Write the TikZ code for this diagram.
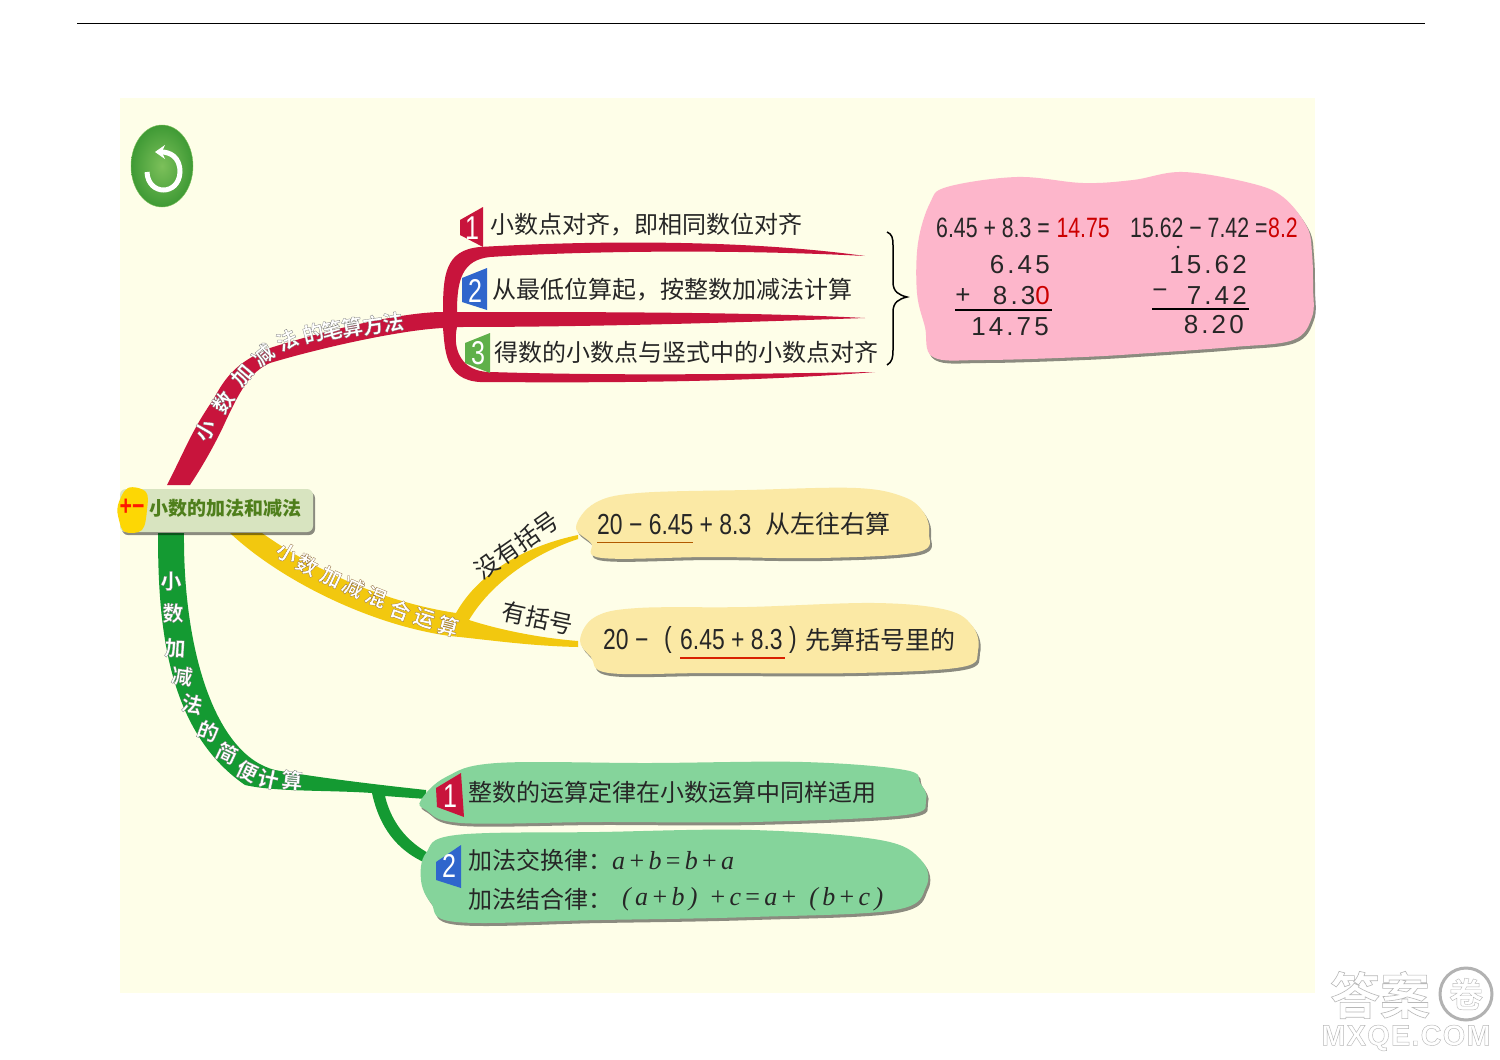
\documentclass[tikz,border=0pt]{standalone}
\usepackage{fontspec,xcolor}
\usetikzlibrary{arrows.meta,shadows}
\newfontfamily\cjk{Noto Sans CJK SC}
\newfontfamily\brfont[FakeBold=1.2]{Noto Sans CJK SC Bold}
\newfontfamily\numfont[FakeStretch=0.76]{Liberation Sans}
\newfontfamily\mixfont[FakeStretch=0.79]{Liberation Sans}
\newfontfamily\vertfont[LetterSpace=12]{Liberation Sans}
\newfontfamily\lawfont{Liberation Serif}
\newfontfamily\wmfont[FakeBold=1.5,LetterSpace=4]{Liberation Sans}
\newcommand{\edgegray}{\special{pdf:code 0.45 0.45 0.45 RG}}
\newcommand{\edgebrown}{\special{pdf:code 0.55 0.40 0.20 RG}}
\newcommand{\edgelight}{\special{pdf:code 0.72 0.72 0.72 RG}}
\definecolor{paper}{HTML}{FEFEE8}
\definecolor{redbranch}{HTML}{C8143C}
\definecolor{yelbranch}{HTML}{F2C80F}
\definecolor{grnbranch}{HTML}{149A32}
\definecolor{pinkblob}{HTML}{FDB6CB}
\definecolor{yelblob}{HTML}{FBE9A5}
\definecolor{grnblob}{HTML}{85D49B}
\definecolor{tagblue}{HTML}{2F66CC}
\definecolor{taggreen}{HTML}{5FB04A}
\definecolor{rootfill}{HTML}{D8E4C0}
\definecolor{roottext}{HTML}{4F7F1C}
\definecolor{btnlight}{HTML}{7CC05A}
\definecolor{btndark}{HTML}{3F9A35}
\tikzset{
    blobshadow/.style={drop shadow={shadow xshift=2pt,shadow yshift=-3pt,fill=black,opacity=.45}},
    line/.style={font=\cjk\fontsize{24}{28}\selectfont,anchor=west,inner sep=0pt,text=black!85},
    calc/.style={font=\numfont\fontsize{28}{30}\selectfont,inner sep=0pt,text=black!85},
    mixcalc/.style={font=\mixfont\fontsize{29}{30}\selectfont,inner sep=0pt,text=black!85},
    vert/.style={font=\vertfont\fontsize{26}{30}\selectfont,inner sep=0pt,text=black!85},
    law/.style={font=\lawfont\itshape\fontsize{26}{30}\selectfont,anchor=west,inner sep=0pt,text=black!85},
    tagnum/.style={font=\numfont\fontsize{33}{33}\selectfont,text=white,inner sep=0pt},
    brchar/.style={font=\brfont\fontsize{21}{24}\selectfont,text=white,inner sep=0pt}
}
\begin{document}
\begin{tikzpicture}[x=1pt,y=-1pt]
            \useasboundingbox (0,0) rectangle (1500,1060);
            \fill[white] (0,0) rectangle (1500,1060);
            \draw[black,line width=1pt] (77,23) -- (1425,23);
            \fill[paper] (120,98) rectangle (1315,993);

            \shade[inner color=btnlight,outer color=btndark,draw=btnlight] (162,166) ellipse [x radius=31pt,y radius=41pt];
            \draw[white,line width=5pt,-{Stealth[length=10pt,width=14pt]}] (147,172) .. controls (148,196) and (179,196) .. (180,172) .. controls (180,157) and (170,152) .. (155,152);

            \fill[redbranch] (167,485) .. controls (185,450) and (192,430) .. (213,400) .. controls (225,378) and (235,363) .. (270,348) .. controls (320,332) and (400,312) .. (443,312) .. controls (443,275) and (445,250) .. (480,247) .. controls (600,240) and (750,240) .. (865,256) .. controls (750,250) and (600,250) .. (490,257) .. controls (462,260) and (457,280) .. (457,312) .. controls (600,312) and (750,312) .. (865,318) .. controls (750,322) and (600,327) .. (457,327) .. controls (452,350) and (462,372) .. (490,372) .. controls (620,376) and (750,374) .. (875,372) .. controls (750,382) and (620,383) .. (480,382) .. controls (445,380) and (445,350) .. (443,328) .. controls (400,330) and (320,348) .. (270,363) .. controls (250,372) and (240,390) .. (223,427) .. controls (212,450) and (200,470) .. (190,485) -- cycle;
            \fill[yelbranch] (230,533) -- (262,533) .. controls (300,560) and (370,600) .. (456,613) .. controls (480,570) and (530,545) .. (578,535) -- (578,539) .. controls (530,555) and (490,585) .. (469,620) .. controls (500,630) and (540,638) .. (578,641) -- (578,647) .. controls (530,646) and (490,640) .. (450,636) .. controls (370,625) and (280,580) .. (230,533) -- cycle;
            \fill[grnbranch] (158,533) .. controls (158,620) and (165,730) .. (245,785) .. controls (275,792) and (330,790) .. (372,793) .. controls (380,830) and (400,855) .. (436,867) -- (436,857) .. controls (410,845) and (392,825) .. (385,796) -- (426,799) -- (426,790) .. controls (380,785) and (320,778) .. (275,770) .. controls (215,755) and (183,650) .. (184,533) -- cycle;

            \fill[pinkblob,blobshadow] plot[smooth cycle,tension=.6] coordinates {(947,187) (1017,177) (1083,183) (1133,180) (1183,172) (1250,183) (1283,197) (1307,227) (1312,253) (1313,287) (1312,317) (1293,340) (1233,347) (1150,353) (1083,357) (983,360) (933,357) (925,327) (917,293) (918,243) (930,203)};
            \fill[yelblob,blobshadow] plot[smooth cycle,tension=.6] coordinates {(576,527) (595,503) (638,493) (747,490) (856,488) (904,497) (924,513) (929,533) (918,552) (820,558) (711,557) (602,558) (591,543)};
            \fill[yelblob,blobshadow] plot[smooth cycle,tension=.6] coordinates {(580,640) (595,617) (638,608) (747,607) (875,603) (947,610) (973,627) (978,650) (962,667) (856,673) (711,673) (609,673) (591,657)};
            \fill[grnblob,blobshadow] plot[smooth cycle,tension=.6] coordinates {(421,800) (446,777) (497,763) (650,763) (803,762) (905,770) (920,783) (926,800) (905,815) (752,822) (599,822) (461,823) (426,810)};
            \fill[grnblob,blobshadow] plot[smooth cycle,tension=.6] coordinates {(421,880) (426,853) (456,835) (599,832) (752,830) (880,840) (921,860) (926,887) (895,910) (752,917) (599,920) (456,922) (431,903)};

            \fill[redbranch] (460,220) -- (483,207) -- (483,247) -- (460,235) -- cycle;
            \fill[tagblue] (462,278) -- (487,268) -- (487,310) -- (462,302) -- cycle;
            \fill[taggreen] (465,343) -- (490,333) -- (490,373) -- (465,363) -- cycle;
            \fill[redbranch] (436,788) -- (461,773) -- (464,817) -- (437,807) -- cycle;
            \fill[tagblue] (436,862) -- (461,845) -- (461,888) -- (436,880) -- cycle;
            \node[tagnum] (tag-a) at (472,228) {1};
            \node[tagnum] (tag-b) at (475,291) {2};
            \node[tagnum] (tag-c) at (478,353) {3};
            \node[tagnum] (tag-d) at (450,796) {1};
            \node[tagnum] (tag-e) at (449,866) {2};

            \node[line] (rule-a) at (490,225) {小数点对齐，即相同数位对齐};
            \node[line] (rule-b) at (492,290) {从最低位算起，按整数加减法计算};
            \node[line] (rule-c) at (494,352) {得数的小数点与竖式中的小数点对齐};
            \draw[black,line width=1.5pt] (887,232) .. controls (892,234) and (893,238) .. (893,245) -- (893,282) .. controls (893,292) and (899,295) .. (907,297) .. controls (899,299) and (893,302) .. (893,312) -- (893,350) .. controls (893,358) and (892,362) .. (887,365);

            \node[calc,anchor=west] (sum-a) at (936,228) {6.45 + 8.3 =};
            \node[calc,anchor=east,text=red!80!black] (sum-b) at (1110,228) {14.75};
            \node[calc,anchor=west] (diff-a) at (1130,228) {15.62 − 7.42 =};
            \node[calc,anchor=east,text=red!80!black] (diff-b) at (1298,228) {8.2};
            \node[vert,anchor=east] (sum-c) at (1050,265) {6.45};
            \node[vert] (sum-d) at (963,296) {+};
            \node[vert,anchor=east] (sum-e) at (1050,296) {8.3\textcolor{red!80!black}{0}};
            \draw[black,line width=2.5pt] (955,310) -- (1052,310);
            \node[vert,anchor=east] (sum-f) at (1049,327) {14.75};
            \fill[black!85] (1178,247) circle [radius=1.5pt];
            \node[vert,anchor=east] (diff-c) at (1247,265) {15.62};
            \node[vert] (diff-d) at (1160,294) {−};
            \node[vert,anchor=east] (diff-e) at (1247,295) {7.42};
            \draw[black,line width=2.5pt] (1152,309) -- (1249,309);
            \node[vert,anchor=east] (diff-f) at (1244,325) {8.20};

            \node[mixcalc,anchor=west] (mix-a) at (597,525) {20 − 6.45 + 8.3};
            \node[line,font=\cjk\fontsize{25}{28}\selectfont] (mix-b) at (765,524) {从左往右算};
            \draw[orange!70!black,line width=.8pt] (597,542) -- (693,542);
            \node[mixcalc,anchor=west] (par-a) at (603,640) {20 −};
            \node[mixcalc] (par-b) at (668,640) {(};
            \node[mixcalc,anchor=west] (par-c) at (680,640) {6.45 + 8.3};
            \node[mixcalc] (par-d) at (793,640) {)};
            \node[line,font=\cjk\fontsize{25}{28}\selectfont] (par-e) at (805,640) {先算括号里的};
            \draw[red!70!orange!85!black,line width=2pt] (680,658) -- (785,658);
            \node[line,anchor=center,rotate=35] (mix-c) at (517,545) {没有括号};
            \node[line,anchor=center,rotate=-12] (par-f) at (538,618) {有括号};

            \node[line] (law-a) at (468,792) {整数的运算定律在小数运算中同样适用};
            \node[line] (law-b) at (468,860) {加法交换律：};
            \node[law] (law-c) at (612,861) {a\,{\upshape+}\,b\,{\upshape=}\,b\,{\upshape+}\,a};
            \node[line] (law-d) at (468,899) {加法结合律：};
            \node[law] (law-e) at (622,899) {(\,a\,{\upshape+}\,b\,)\ \ {\upshape+}\,c\,{\upshape=}\,a\,{\upshape+}\ \ (\,b\,{\upshape+}\,c\,)};

            \fill[rootfill,rounded corners=6pt,blobshadow] (120,489) rectangle (313,532);
            \fill[yellow!75!orange] plot[smooth cycle,tension=.6] coordinates {(118,505) (128,488) (146,492) (147,510) (142,530) (125,532) (119,520)};
            \node[font=\numfont\bfseries\fontsize{28}{28}\selectfont,text=red!80!orange,inner sep=0pt] (root-a) at (132,507) {+−};
            \node[font=\cjk\bfseries\fontsize{19}{22}\selectfont,text=roottext,anchor=west,inner sep=0pt] (root-b) at (149,508) {小数的加法和减法};

            \foreach \ch/\px/\py/\ang [count=\i] in {小/205/430/60,数/223/402/55,加/242/375/50,减/263/355/40,法/287/340/25,的/313/333/15,笔/332/330/12,算/352/327/10,方/373/325/8,法/393/322/8}
                \node[brchar,rotate=\ang] (red-\i) at (\px,\py) {\edgegray\ch};
            \foreach \ch/\px/\py/\ang [count=\i] in {小/287/553/-30,数/307/565/-28,加/331/577/-25,减/353/587/-25,混/376/597/-22,合/400/610/-20,运/424/618/-18,算/448/626/-15}
                \node[brchar,rotate=\ang] (yel-\i) at (\px,\py) {\edgebrown\ch};
            \foreach \ch/\px/\py/\ang [count=\i] in {小/171/581/0,数/173/613/0,加/175/648/-3,减/182/676/-8,法/192/704/-12,的/208/731/-20,简/227/753/-25,便/247/771/-25,计/268/779/-12,算/292/780/-5}
                \node[brchar,rotate=\ang] (grn-\i) at (\px,\py) {\edgegray\ch};

            \node[font=\brfont\fontsize{50}{50}\selectfont,text=white,inner sep=0pt] (wm-a) at (1380,995) {\edgelight 答案};
            \draw[black!30,line width=3pt] (1466,994) circle [radius=26pt];
            \node[font=\brfont\fontsize{34}{34}\selectfont,text=white,inner sep=0pt] (wm-b) at (1466,994) {\edgelight 卷};
            \node[font=\wmfont\bfseries\fontsize{29}{30}\selectfont,text=white,inner sep=0pt] (wm-c) at (1406,1038) {\edgelight MXQE.COM};
\end{tikzpicture}
\end{document}
